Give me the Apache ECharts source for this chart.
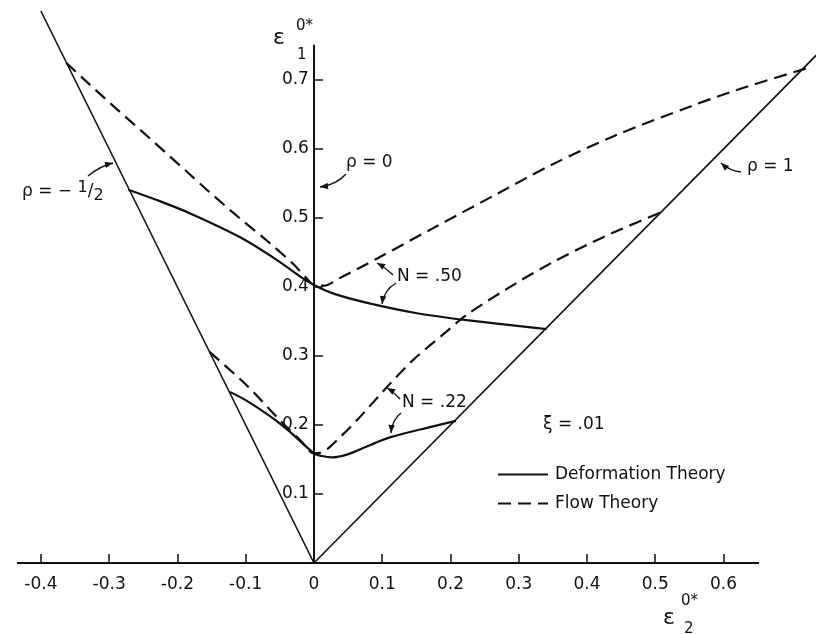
<!DOCTYPE html>
<html><head><meta charset="utf-8">
<script src="https://cdn.jsdelivr.net/npm/echarts@6/dist/echarts.min.js"></script>
<style>html,body{margin:0;padding:0;background:#fff}#c{width:816px;height:634px}</style>
</head><body><div id="c"></div>
<script>
// ---- data ----
const xTicks = [-0.4, -0.3, -0.2, -0.1, 0, 0.1, 0.2, 0.3, 0.4, 0.5, 0.6];
const yTicks = [0.1, 0.2, 0.3, 0.4, 0.5, 0.6, 0.7];
const xAxisExtent = [-0.435, 0.652];
const rhoMinusHalf = [[0, 0], [-0.4, 0.8]];
const rhoOne = [[0, 0], [0.74, 0.74]];
const n50Deformation = [[-0.272, 0.541], [-0.23, 0.526], [-0.182, 0.507], [-0.108, 0.472], [-0.054, 0.439],
  [-0.02, 0.415], [0, 0.403], [0.03, 0.39], [0.078, 0.377], [0.151, 0.362], [0.224, 0.352], [0.341, 0.339]];
const n50Flow = [[-0.363, 0.725], [-0.338, 0.702], [-0.288, 0.657], [-0.24, 0.615], [-0.186, 0.567],
  [-0.157, 0.541], [-0.108, 0.499], [-0.064, 0.463], [-0.031, 0.434], [-0.012, 0.414], [0, 0.403], [0.015, 0.402],
  [0.038, 0.413], [0.092, 0.441], [0.174, 0.485], [0.272, 0.537], [0.35, 0.578], [0.44, 0.619],
  [0.555, 0.663], [0.624, 0.687], [0.722, 0.717]];
const n22Deformation = [[-0.123, 0.248], [-0.1, 0.236], [-0.075, 0.22], [-0.055, 0.206], [-0.035, 0.19], [0, 0.159],
  [0.012, 0.155], [0.026, 0.153], [0.048, 0.157], [0.08, 0.17], [0.111, 0.182], [0.17, 0.197], [0.208, 0.206]];
const n22Flow = [[-0.153, 0.306], [-0.098, 0.257], [-0.05, 0.207], [-0.02, 0.178], [0, 0.159], [0.01, 0.16],
  [0.023, 0.168], [0.063, 0.207], [0.107, 0.255], [0.145, 0.294], [0.195, 0.336], [0.224, 0.36],
  [0.297, 0.406], [0.35, 0.436], [0.4, 0.461], [0.448, 0.483], [0.508, 0.508]];
const legendNames = ['Deformation Theory', 'Flow Theory'];

const FONT = 'DejaVu Sans';
const INK = '#111';
const X_MIN = -0.435, X_MAX = 0.7355;
const GRID = {left: 17, right: 0, top: 45.5, bottom: 71};
const chart = echarts.init(document.getElementById('c'), null, {renderer: 'canvas'});
const gridW = 816 - GRID.left - GRID.right;
const yAxisShift = (0 - X_MIN) / (X_MAX - X_MIN) * gridW; // put the vertical axis at x = 0

function fmt(v) { return Math.abs(v) < 1e-9 ? '0' : v.toFixed(1); }

function arrow(x0, y0, cx, cy, x1, y1) {
  const ang = Math.atan2(y1 - cy, x1 - cx);
  const L = 8, W = 3.2;
  const bx = x1 - L * Math.cos(ang), by = y1 - L * Math.sin(ang);
  const px = -Math.sin(ang) * W, py = Math.cos(ang) * W;
  return [
    {type: 'bezierCurve', shape: {x1: x0, y1: y0, x2: x1, y2: y1, cpx1: cx, cpy1: cy}, style: {stroke: INK, lineWidth: 1.4, fill: null}, silent: true},
    {type: 'polygon', shape: {points: [[x1, y1], [bx + px, by + py], [bx - px, by - py]]}, style: {fill: INK}, silent: true}
  ];
}
function txt(x, y, text, size) {
  return {type: 'text', x: x, y: y, silent: true,
    style: {text: text, fill: INK, font: size + 'px "' + FONT + '"', verticalAlign: 'middle'}};
}

const graphics = [].concat(
  arrow(88, 176, 100, 166, 113, 163),
  arrow(346, 174, 336, 185, 320, 187),
  arrow(741, 172, 730, 171, 721, 163),
  arrow(393, 275, 386, 268, 377, 263),
  arrow(396, 283, 384, 290, 382, 304),
  arrow(400, 399, 394, 392, 387, 388),
  arrow(401, 413, 392, 420, 391, 433),
  [
    {type: 'text', x: 22, y: 192, silent: true, style: {
      text: 'ρ = − {s|1}{m|/}{b|2}', fill: INK, font: '17px "' + FONT + '"', verticalAlign: 'middle',
      rich: {s: {fontSize: 16, fontFamily: FONT, padding: [0, 0, 8, 0]}, m: {fontSize: 17, fontFamily: FONT}, b: {fontSize: 16, fontFamily: FONT, padding: [8, 0, 0, 0]}}}},
    txt(346, 163, 'ρ = 0', 17),
    txt(747, 167, 'ρ = 1', 17),
    txt(397, 277, 'N = .50', 17),
    txt(402, 403, 'N = .22', 17),
    txt(543, 425, 'ξ = .01', 17),
    txt(273, 38, 'ε', 22),
    txt(296, 26, '0*', 15),
    txt(297, 55, '1', 15),
    txt(663, 618, 'ε', 22),
    txt(681, 601, '0*', 15),
    txt(684, 629, '2', 15)
  ]
);

const base = {type: 'line', showSymbol: false, symbol: 'none', clip: false, silent: true, animation: false, color: INK};

chart.setOption({
  animation: false,
  backgroundColor: '#fff',
  color: [INK],
  grid: Object.assign({outerBoundsMode: 'none', containLabel: false}, GRID),
  xAxis: {
    type: 'value', min: X_MIN, max: X_MAX,
    axisLine: {show: false},
    axisTick: {inside: true, length: 9, customValues: xTicks, lineStyle: {color: INK, width: 1.5}},
    axisLabel: {customValues: xTicks, formatter: fmt, margin: 13, color: INK, fontFamily: FONT, fontSize: 17},
    splitLine: {show: false}
  },
  yAxis: {
    type: 'value', min: 0, max: 0.75, position: 'left', offset: -yAxisShift,
    axisLine: {onZero: false, lineStyle: {color: INK, width: 2}},
    axisTick: {inside: true, length: 9, customValues: yTicks, lineStyle: {color: INK, width: 1.5}},
    axisLabel: {customValues: yTicks, formatter: fmt, margin: 5, color: INK, fontFamily: FONT, fontSize: 17},
    splitLine: {show: false}
  },
  legend: {
    data: legendNames, orient: 'vertical', left: 492, top: 461, itemWidth: 50, itemHeight: 12, itemGap: 12,
    selectedMode: false, itemStyle: {opacity: 0},
    textStyle: {color: INK, fontFamily: FONT, fontSize: 17, padding: [0, 0, 0, 2]}
  },
  series: [
    Object.assign({}, base, {name: 'x axis', data: xAxisExtent.map(v => [v, 0]), lineStyle: {color: INK, width: 2}}),
    Object.assign({}, base, {name: 'rho -1/2', data: rhoMinusHalf, lineStyle: {color: INK, width: 1.6}}),
    Object.assign({}, base, {name: 'rho 1', data: rhoOne, lineStyle: {color: INK, width: 1.6}}),
    Object.assign({}, base, {name: 'Deformation Theory', data: n50Deformation, smooth: 0.3, lineStyle: {color: INK, width: 2.2}}),
    Object.assign({}, base, {name: 'Deformation Theory', data: n22Deformation, smooth: 0.3, lineStyle: {color: INK, width: 2.2}}),
    Object.assign({}, base, {name: 'Flow Theory', data: n50Flow, smooth: 0.3, lineStyle: {color: INK, width: 2.2, type: [13, 7]}}),
    Object.assign({}, base, {name: 'Flow Theory', data: n22Flow, smooth: 0.3, lineStyle: {color: INK, width: 2.2, type: [13, 7]}})
  ],
  graphic: graphics
});
</script>
</body></html>
